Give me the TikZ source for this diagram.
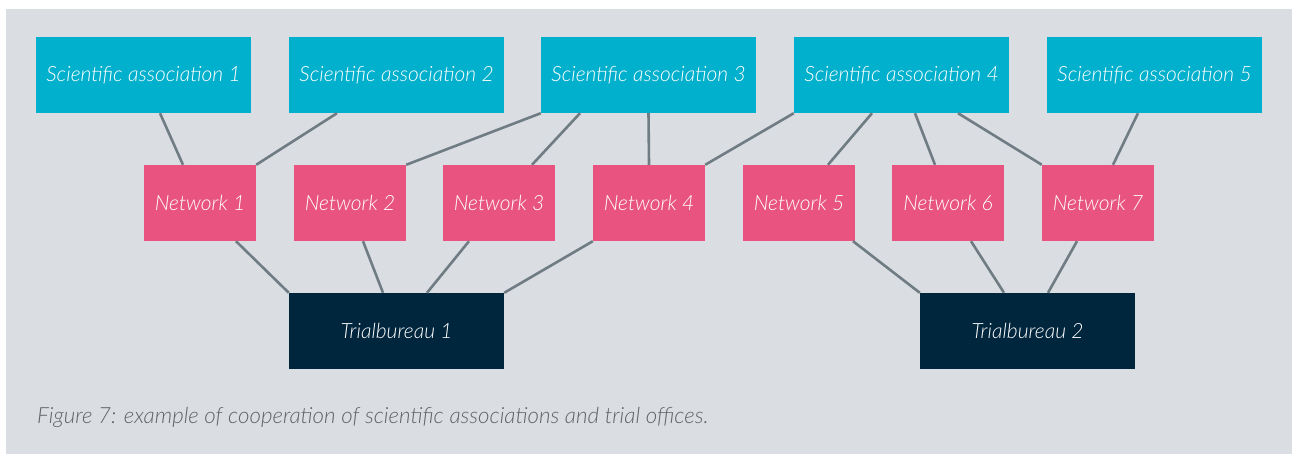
\documentclass[tikz,border=0pt]{standalone}
\usepackage{fontspec}
\setmainfont{Lato}[ItalicFont={Lato Light Italic}]
\definecolor{panel}{HTML}{DADEE2}
\definecolor{sciblue}{HTML}{00B0CC}
\definecolor{netpink}{HTML}{E85380}
\definecolor{navy}{HTML}{00263D}
\definecolor{linkgray}{HTML}{707C83}
\definecolor{capgray}{HTML}{5F6266}
\tikzset{
  box/.style={minimum height=76pt, inner sep=0pt, text=white, font=\fontsize{21}{24}\selectfont\itshape},
  sci/.style={box, fill=sciblue, minimum width=215pt},
  net/.style={box, fill=netpink, minimum width=112pt},
  trial/.style={box, fill=navy, minimum width=215pt},
  link/.style={draw=linkgray, line width=2.6pt}
}
\begin{document}
\begin{tikzpicture}[x=1pt, y=-1pt]
\useasboundingbox (0,0) rectangle (1292,454);
\fill[white] (0,0) rectangle (1292,454);
\fill[panel] (6,9) rectangle (1292,454);
% scientific associations
\node[sci] (s1) at (143.5,75) {Scientific association 1};
\node[sci] (s2) at (396.5,75) {Scientific association 2};
\node[sci] (s3) at (648.5,75) {Scientific association 3};
\node[sci] (s4) at (901.5,75) {Scientific association 4};
\node[sci] (s5) at (1154.5,75) {Scientific association 5};
% networks
\node[net] (n1) at (200,203) {Network 1};
\node[net] (n2) at (350,203) {Network 2};
\node[net] (n3) at (499,203) {Network 3};
\node[net] (n4) at (649,203) {Network 4};
\node[net] (n5) at (799,203) {Network 5};
\node[net] (n6) at (948,203) {Network 6};
\node[net] (n7) at (1098,203) {Network 7};
% trial bureaus
\node[trial] (t1) at (396.5,331) {Trialbureau 1};
\node[trial] (t2) at (1027.5,331) {Trialbureau 2};
% caption
\node[anchor=west, inner sep=0pt, text=capgray, font=\fontsize{22.3}{25}\selectfont\itshape] (cap) at (37,417) {Figure 7: example of cooperation of scientific associations and trial offices.};
% links: associations to networks
\draw[link] ([xshift=16.5pt]s1.south) -- ([xshift=-17pt]n1.north);
\draw[link] ([xshift=-59.5pt]s2.south) -- (n1.north east);
\draw[link] (s3.south west) -- (n2.north east);
\draw[link] ([xshift=-68.5pt]s3.south) -- ([xshift=33pt]n3.north);
\draw[link] (s3.south) -- (n4.north);
\draw[link] (s4.south west) -- (n4.north east);
\draw[link] ([xshift=-29.5pt]s4.south) -- ([xshift=29pt]n5.north);
\draw[link] ([xshift=13.5pt]s4.south) -- ([xshift=-13pt]n6.north);
\draw[link] ([xshift=56.5pt]s4.south) -- (n7.north west);
\draw[link] ([xshift=-16.5pt]s5.south) -- ([xshift=15pt]n7.north);
% links: networks to trial bureaus
\draw[link] ([xshift=36pt]n1.south) -- (t1.north west);
\draw[link] ([xshift=13pt]n2.south) -- ([xshift=-13.5pt]t1.north);
\draw[link] ([xshift=-30pt]n3.south) -- ([xshift=30.5pt]t1.north);
\draw[link] (n4.south west) -- (t1.north east);
\draw[link] ([xshift=54pt]n5.south) -- (t2.north west);
\draw[link] ([xshift=23pt]n6.south) -- ([xshift=-23.5pt]t2.north);
\draw[link] ([xshift=-21pt]n7.south) -- ([xshift=20.5pt]t2.north);
\end{tikzpicture}
\end{document}
